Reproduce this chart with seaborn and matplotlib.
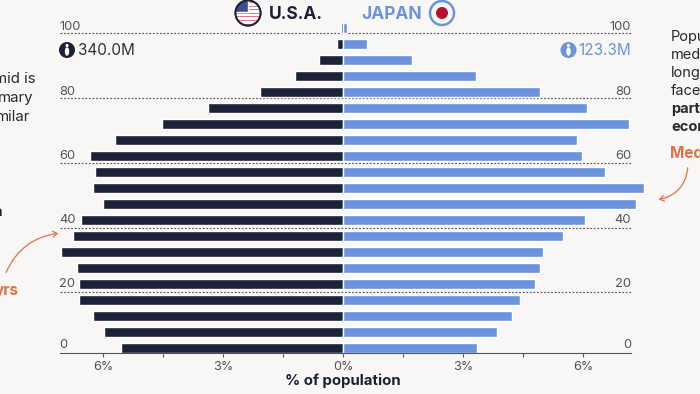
import matplotlib
matplotlib.use("Agg")
from matplotlib import pyplot as plt
from matplotlib.patches import Circle, Ellipse, FancyArrowPatch, Rectangle
import seaborn as sns
import pandas as pd

ages = [0, 5, 10, 15, 20, 25, 30, 35, 40, 45, 50, 55, 60, 65, 70, 75, 80, 85, 90, 95, 100]
usa_share = [5.55, 5.98, 6.25, 6.60, 6.60, 6.65, 7.04, 6.75, 6.55, 6.00, 6.25, 6.20, 6.32, 5.70, 4.52, 3.37, 2.08, 1.20, 0.60, 0.16, 0.06]
japan_share = [3.34, 3.85, 4.22, 4.42, 4.80, 4.92, 5.00, 5.50, 6.06, 7.33, 7.53, 6.55, 5.98, 5.85, 7.14, 6.11, 4.93, 3.32, 1.73, 0.60, 0.09]
x_ticks = [-6, -4.5, -3, -1.5, 0, 1.5, 3, 4.5, 6]
x_labels = ["6%", "", "3%", "", "0%", "", "3%", "", "6%"]
age_labels = [100, 80, 60, 40, 20, 0]

NAVY = "#1B2137"
BLUE = "#6C93DD"
ORANGE = "#E0704A"
GREY = "#555555"
BG = "#F8F7F5"

sns.set_style("white")
plt.rcParams["font.family"] = ["Inter", "DejaVu Sans"]

df = pd.DataFrame({
    "age": ages * 2,
    "share": [-v for v in usa_share] + japan_share,
    "country": ["U.S.A."] * len(ages) + ["Japan"] * len(ages),
})

fig = plt.figure(figsize=(7, 3.94), dpi=100, facecolor=BG)
ax = fig.add_axes([0, 0, 1, 1], facecolor=BG)

sns.barplot(
    data=df, y="age", x="share", hue="country", order=ages, orient="h", dodge=False,
    palette={"U.S.A.": NAVY, "Japan": BLUE}, width=0.64, saturation=1, legend=False, ax=ax, zorder=3,
)
ax.set_xlim(-343 / 40, 357 / 40)
ax.set_ylim(-2.875, 21.75)
ax.set_ylabel("")
ax.set_yticks([])

# bottom axis is a real spine, moved up into the figure
for side in ["top", "left", "right"]:
    ax.spines[side].set_visible(False)
ax.spines["bottom"].set_position(("data", -0.3))
ax.spines["bottom"].set_bounds(-7.07, 7.2)
ax.spines["bottom"].set_color(GREY)
ax.spines["bottom"].set_linewidth(0.8)
ax.spines["bottom"].set_zorder(4)
ax.set_xticks(x_ticks, x_labels)
ax.tick_params(axis="x", bottom=True, length=3, width=0.8, color=GREY, labelcolor=GREY, labelsize=9.2, pad=3)
ax.set_xlabel("% of population", fontsize=10.8, fontweight="bold", color=NAVY)
ax.xaxis.set_label_coords(343 / 700, 6 / 394)
ax.xaxis.label.set_va("bottom")

# age guides sit a bit off the bars, measured in bar slots
guide_pos = {100: 19.66, 80: 15.6, 60: 11.58, 40: 7.52, 20: 3.5}
for age, pos in guide_pos.items():
    ax.hlines(pos, -7.07, 7.2, color=GREY, lw=0.8, linestyles=(0, (1.6, 1.6)), zorder=2)
for age, pos in zip(age_labels, [20.05, 16.03, 12.02, 8.0, 4.0, 0.2]):
    ax.text(-7.1, pos, str(age), ha="left", va="center", fontsize=9.3, color=GREY, zorder=5)
    ax.text(7.2, pos, str(age), ha="right", va="center", fontsize=9.3, color=GREY, zorder=5)

# overlay in pixels for flags, icons and the side notes
deco = fig.add_axes([0, 0, 1, 1], facecolor="none")
deco.set_xlim(0, 700)
deco.set_ylim(394, 0)
deco.axis("off")

flag = Circle((248, 13), 12.5, fc="white", ec=NAVY, lw=1.4, zorder=2)
deco.add_patch(flag)
for i in range(7):
    stripe = Rectangle((235, 1 + i * 3.6), 26, 1.9, fc="#C8213F", zorder=3)
    deco.add_patch(stripe)
    stripe.set_clip_path(flag)
canton = Rectangle((235, 0), 13, 12, fc="#3A4F8F", zorder=4)
deco.add_patch(canton)
canton.set_clip_path(flag)
deco.add_patch(Circle((248, 13), 12.5, fc="none", ec=NAVY, lw=1.4, zorder=5))

deco.add_patch(Circle((442, 13), 12, fc="none", ec=BLUE, lw=1.8))
deco.add_patch(Circle((442, 13), 6, fc="#B5122D", ec="none"))

deco.text(269, 14, "U.S.A.", fontsize=12.5, fontweight="bold", color=NAVY, ha="left", va="center")
deco.text(361, 14, "JAPAN", fontsize=12.5, fontweight="bold", color=BLUE, ha="left", va="center")

for cx, col in [(67, NAVY), (568.5, BLUE)]:
    deco.add_patch(Circle((cx, 50), 8, fc=col, ec="none"))
    deco.add_patch(Circle((cx, 45.5), 1.6, fc="white", ec="none"))
    deco.add_patch(Ellipse((cx, 51.5), 4.4, 8.5, fc="white", ec="none"))
deco.text(78, 50.5, "340.0M", fontsize=11, color="#333333", ha="left", va="center")
deco.text(631, 50.5, "123.3M", fontsize=11, color=BLUE, ha="right", va="center")

# side notes run off the edge of the crop
for txt, x, y in [("mid is", 36, 79), ("mary", 33, 98), ("milar", 30, 117)]:
    deco.text(x, y, txt, fontsize=10.8, color="#2A2A2A", ha="right", va="center")
deco.text(1.5, 212, "a", fontsize=10.5, fontweight="bold", color=NAVY, ha="right", va="center")
deco.text(19, 291, "yrs", fontsize=11, fontweight="bold", color=ORANGE, ha="right", va="center")

right_notes = [("Popu", 37, "normal"), ("med", 55, "normal"), ("long", 73, "normal"),
               ("face", 91, "normal"), ("part", 109, "bold"), ("ecor", 127, "bold")]
for txt, y, weight in right_notes:
    deco.text(671, y, txt, fontsize=10.5, fontweight=weight, color="#2A2A2A", ha="left", va="center")
deco.text(670, 153, "Med", fontsize=11, fontweight="bold", color=ORANGE, ha="left", va="center")

deco.add_patch(FancyArrowPatch((5, 275), (61, 233), connectionstyle="arc3,rad=-0.3",
                               arrowstyle="->,head_length=3,head_width=2", color=ORANGE, lw=0.9))
deco.add_patch(FancyArrowPatch((688, 165), (656, 200), connectionstyle="arc3,rad=-0.4",
                               arrowstyle="->,head_length=3,head_width=2", color=ORANGE, lw=0.9))

fig.savefig("out.png", dpi=100, facecolor=BG)
